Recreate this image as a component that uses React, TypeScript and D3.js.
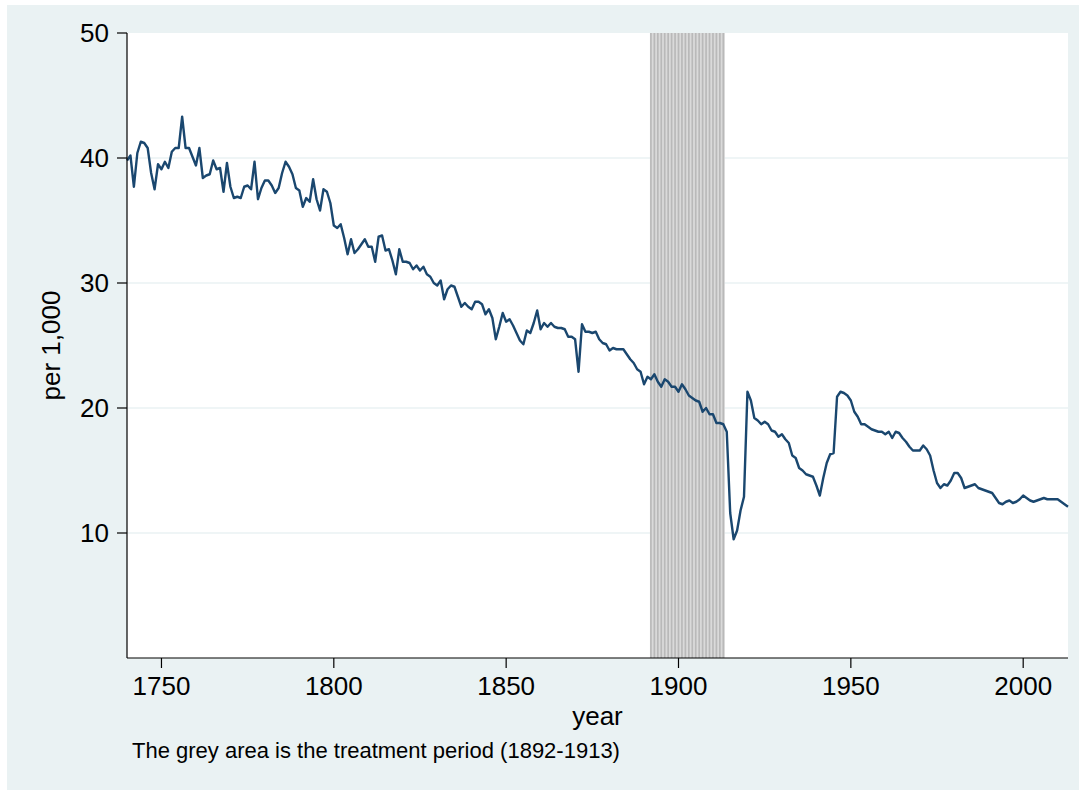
import React from "react";
import * as d3 from "d3";

const startYear = 1740;
const rates: number[] = [
  // 1740-1749
  39.8, 40.2, 37.7, 40.4, 41.3, 41.2, 40.8, 38.8, 37.5, 39.5,
  // 1750-1759
  39.1, 39.7, 39.2, 40.5, 40.8, 40.8, 43.3, 40.8, 40.8, 40.1,
  // 1760-1769
  39.4, 40.8, 38.4, 38.6, 38.7, 39.8, 39.1, 39.2, 37.3, 39.6,
  // 1770-1779
  37.7, 36.8, 36.9, 36.8, 37.7, 37.8, 37.5, 39.7, 36.7, 37.6,
  // 1780-1789
  38.2, 38.2, 37.8, 37.2, 37.6, 38.8, 39.7, 39.3, 38.7, 37.6,
  // 1790-1799
  37.4, 36.1, 36.8, 36.5, 38.3, 36.7, 35.8, 37.5, 37.3, 36.4,
  // 1800-1809
  34.6, 34.4, 34.7, 33.6, 32.3, 33.5, 32.4, 32.7, 33.1, 33.5,
  // 1810-1819
  32.9, 32.9, 31.7, 33.7, 33.8, 32.6, 32.7, 31.8, 30.7, 32.7,
  // 1820-1829
  31.7, 31.7, 31.6, 31.1, 31.4, 31.0, 31.3, 30.7, 30.5, 30.0,
  // 1830-1839
  29.8, 30.2, 28.7, 29.5, 29.8, 29.7, 28.9, 28.1, 28.4, 28.1,
  // 1840-1849
  27.9, 28.5, 28.5, 28.3, 27.5, 27.9, 27.2, 25.5, 26.5, 27.6,
  // 1850-1859
  26.9, 27.1, 26.6, 26.0, 25.4, 25.1, 26.2, 26.0, 26.8, 27.8,
  // 1860-1869
  26.3, 26.8, 26.5, 26.8, 26.5, 26.4, 26.4, 26.3, 25.7, 25.7,
  // 1870-1879
  25.5, 22.9, 26.7, 26.1, 26.1, 26.0, 26.1, 25.5, 25.2, 25.1,
  // 1880-1889
  24.6, 24.8, 24.7, 24.7, 24.7, 24.3, 23.9, 23.6, 23.1, 22.9,
  // 1890-1899
  21.9, 22.5, 22.3, 22.7, 22.1, 21.7, 22.3, 22.1, 21.7, 21.7,
  // 1900-1909
  21.3, 21.9, 21.5, 21.0, 20.8, 20.6, 20.5, 19.7, 20.0, 19.5,
  // 1910-1919
  19.5, 18.8, 18.8, 18.7, 18.1, 11.6, 9.5, 10.2, 11.8, 12.9,
  // 1920-1929
  21.3, 20.6, 19.2, 19.0, 18.7, 18.9, 18.7, 18.2, 18.1, 17.7,
  // 1930-1939
  17.9, 17.5, 17.2, 16.2, 16.0, 15.2, 15.0, 14.7, 14.6, 14.5,
  // 1940-1949
  13.8, 13.0, 14.4, 15.6, 16.3, 16.4, 20.9, 21.3, 21.2, 21.0,
  // 1950-1959
  20.6, 19.7, 19.3, 18.7, 18.7, 18.5, 18.3, 18.2, 18.1, 18.1,
  // 1960-1969
  17.9, 18.1, 17.6, 18.1, 18.0, 17.6, 17.3, 16.9, 16.6, 16.6,
  // 1970-1979
  16.6, 17.0, 16.7, 16.2, 15.0, 14.0, 13.6, 13.9, 13.8, 14.2,
  // 1980-1989
  14.8, 14.8, 14.4, 13.6, 13.7, 13.8, 13.9, 13.6, 13.5, 13.4,
  // 1990-1999
  13.3, 13.2, 12.8, 12.4, 12.3, 12.5, 12.6, 12.4, 12.5, 12.7,
  // 2000-2009
  13.0, 12.8, 12.6, 12.5, 12.6, 12.7, 12.8, 12.7, 12.7, 12.7,
  // 2010-2013
  12.7, 12.5, 12.3, 12.1,
];

const xTicks = [1750, 1800, 1850, 1900, 1950, 2000];
const yTicks = [10, 20, 30, 40, 50];
const gridValues = [10, 20, 30, 40];
const treatStart = 1892;
const treatEnd = 1913;

const W = 1083;
const H = 794;
const left = 127;
const right = 1068;
const top = 33;
const bottom = 658;
const FONT = "'Liberation Sans', Arial, Helvetica, sans-serif";

export default function App() {
  const data = rates.map((v, i) => ({ year: startYear + i, value: v }));
  const x = d3.scaleLinear().domain([1740, 2013]).range([left, right]);
  const y = d3.scaleLinear().domain([0, 50]).range([bottom, top]);
  const line = d3
    .line<{ year: number; value: number }>()
    .x((d) => x(d.year))
    .y((d) => y(d.value));
  const treatYears = d3.range(treatStart, treatEnd + 1);

  return (
    <div style={{ position: "absolute", left: 0, top: 0 }}>
      <svg width={W} height={H} style={{ display: "block" }} fontFamily={FONT}>
        <rect x={0} y={0} width={W} height={H} fill="#ffffff" />
        <rect x={7} y={5} width={1072} height={785} fill="#eaf2f3" />
        <rect x={left} y={top} width={right - left} height={bottom - top} fill="#ffffff" />
        {gridValues.map((g) => (
          <line
            key={g}
            x1={left}
            x2={right}
            y1={y(g)}
            y2={y(g)}
            stroke="#eaf2f3"
            strokeWidth={1.6}
          />
        ))}
        <rect
          x={x(treatStart) - 1}
          y={top}
          width={x(treatEnd) - x(treatStart) + 2.5}
          height={bottom - top}
          fill="#dadada"
        />
        {treatYears.map((yr) => (
          <line
            key={yr}
            x1={x(yr)}
            x2={x(yr)}
            y1={top}
            y2={bottom}
            stroke="#b9b9b9"
            strokeWidth={1.7}
          />
        ))}
        <path
          d={line(data) || ""}
          fill="none"
          stroke="#1a476f"
          strokeWidth={2.4}
          strokeLinejoin="round"
        />
        {/* axes */}
        <line x1={left} x2={left} y1={top} y2={bottom} stroke="#000" strokeWidth={1.2} />
        <line x1={left} x2={right} y1={bottom} y2={bottom} stroke="#000" strokeWidth={1.2} />
        {yTicks.map((t) => (
          <g key={t}>
            <line x1={left - 10} x2={left} y1={y(t)} y2={y(t)} stroke="#000" strokeWidth={1.2} />
            <text
              x={left - 18}
              y={y(t) + 9.3}
              textAnchor="end"
              fontSize={26}
              fill="#000"
            >
              {t}
            </text>
          </g>
        ))}
        {xTicks.map((t) => (
          <g key={t}>
            <line x1={x(t)} x2={x(t)} y1={bottom} y2={bottom + 10} stroke="#000" strokeWidth={1.2} />
            <text x={x(t)} y={695} textAnchor="middle" fontSize={26} fill="#000">
              {t}
            </text>
          </g>
        ))}
        <text
          transform={`translate(60, ${(top + bottom) / 2}) rotate(-90)`}
          textAnchor="middle"
          fontSize={26}
          fill="#000"
        >
          per 1,000
        </text>
        <text x={(left + right) / 2} y={725} textAnchor="middle" fontSize={26} fill="#000">
          year
        </text>
        <text x={132} y={758} fontSize={22} fill="#000">
          The grey area is the treatment period (1892-1913)
        </text>
      </svg>
    </div>
  );
}
